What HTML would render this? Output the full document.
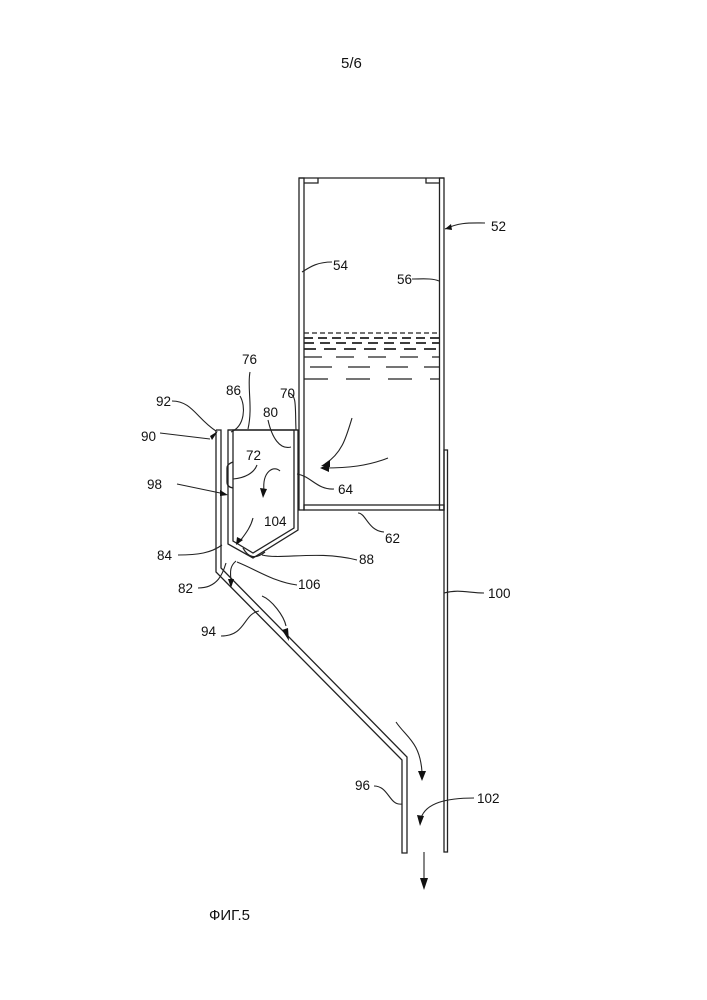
<!DOCTYPE html>
<html><head><meta charset="utf-8"><style>
html,body{margin:0;padding:0;background:#fff;}
svg{display:block;}
text{font-family:"Liberation Sans",sans-serif;font-size:13.5px;fill:#111;}
</style></head><body>
<svg width="707" height="1000" viewBox="0 0 707 1000" xmlns="http://www.w3.org/2000/svg">
<g fill="none" stroke="#222" stroke-width="1.3">
<!-- tank -->
<rect x="299" y="178" width="5" height="332"/>
<rect x="439.5" y="178" width="4.5" height="332"/>
<line x1="299" y1="178" x2="444" y2="178"/>
<polyline points="304,183 318,183 318,178"/>
<polyline points="439.5,183 426,183 426,178"/>
<rect x="304" y="505" width="140" height="5"/>
<!-- wall 100 -->
<rect x="444" y="450" width="3.5" height="402"/>
<!-- liquid -->
<line x1="304" y1="333" x2="439" y2="333" stroke-dasharray="5,3"/>
<line x1="304" y1="338" x2="439" y2="338" stroke-dasharray="9,5" stroke-width="1.7"/>
<line x1="304" y1="343" x2="439" y2="343" stroke-dasharray="10,6" stroke-width="1.7"/>
<line x1="304" y1="349" x2="439" y2="349" stroke-dasharray="12,8" stroke-width="1.7"/>
<line x1="304" y1="357" x2="439" y2="357" stroke-dasharray="18,14"/>
<line x1="310" y1="367" x2="439" y2="367" stroke-dasharray="22,16"/>
<line x1="304" y1="379" x2="439" y2="379" stroke-dasharray="24,18"/>
<!-- hopper -->
<polygon points="228,430 298,430 298,530 253,558 228,544"/>
<polygon points="233,430 294,430 294,528 253,553 233,541" />
<line x1="228" y1="430" x2="298" y2="430"/>
<path d="M243,548 q8,15 22,4" />
<!-- plate 90 / 94 / 96 -->
<polyline points="216,430 216,572 402,760 402,853 407,853 407,757 221,568 221,430 216,430"/>
<!-- 98 bump -->
<path d="M233,462 q-6,2 -6,6 v14 q0,5 6,6"/>
</g>
<g fill="none" stroke="#222" stroke-width="1.1">
<!-- leaders -->
<path d="M172,401 c20,0 25,18 44,30"/>
<path d="M160,433 l50,6"/>
<path d="M177,484 l48,10"/>
<path d="M250,372 c-3,15 3,35 -2,57"/>
<path d="M240,396 c6,10 5,30 -9,36"/>
<path d="M289,393 c8,2 6,14 7,37"/>
<path d="M268,420 c4,18 12,30 23,27"/>
<path d="M257,465 c-3,8 -12,13 -24,14"/>
<path d="M297,474 c14,2 20,16 37,15"/>
<path d="M358,513 c8,0 10,18 26,19"/>
<path d="M178,555 c20,0 33,-2 44,-10"/>
<path d="M198,588 c20,0 25,-15 28,-25"/>
<path d="M262,555 c20,5 55,-5 95,5"/>
<path d="M237,562 c20,8 37,20 60,23"/>
<path d="M221,636 c25,0 22,-22 38,-25"/>
<path d="M374,786 c15,0 15,20 28,18"/>
<path d="M444,593 c15,-4 25,0 40,0"/>
<path d="M445,229 c15,-7 25,-6 40,-6"/>
<path d="M302,272 c8,-5 15,-10 30,-10"/>
<path d="M412,279 c10,0 20,-1 27,2"/>
<!-- flow arrows -->
<path d="M352,418 c-6,20 -10,35 -27,46"/>
<path d="M388,458 c-20,8 -40,10 -64,10"/>
<path d="M280,471 c-6,-6 -18,0 -16,20"/>
<path d="M253,518 c-2,8 -6,14 -13,23"/>
<path d="M236,561 c-6,5 -6,10 -5,20"/>
<path d="M262,596 c10,4 22,20 24,30"/>
<path d="M396,722 c10,15 24,20 26,50"/>
<path d="M474,798 c-28,0 -48,5 -53,20"/>
<line x1="424" y1="852" x2="424" y2="880"/>
</g>
<g fill="#111">
<polygon points="445,229 451,224 452,230"/>
<polygon points="218,431 210,436 212,440"/>
<polygon points="228,495 220,490 220,496"/>
<polygon points="321,466 330,460 330,467"/>
<polygon points="320,468 329,464 329,472"/>
<polygon points="263,498 260,488 267,489"/>
<polygon points="236,545 237,537 243,540"/>
<polygon points="231,588 228,579 234,579"/>
<polygon points="289,641 282,630 288,628"/>
<polygon points="422,781 418,771 426,771"/>
<polygon points="420,826 417,815 424,816"/>
<polygon points="424,890 420,878 428,878"/>
</g>
<text x="341" y="68" style="font-size:15px">5/6</text>
<text x="491" y="231">52</text>
<text x="333" y="270">54</text>
<text x="397" y="284">56</text>
<text x="242" y="364">76</text>
<text x="156" y="406">92</text>
<text x="226" y="395">86</text>
<text x="280" y="398">70</text>
<text x="141" y="441">90</text>
<text x="263" y="417">80</text>
<text x="246" y="460">72</text>
<text x="147" y="489">98</text>
<text x="338" y="494">64</text>
<text x="264" y="526">104</text>
<text x="385" y="543">62</text>
<text x="157" y="560">84</text>
<text x="359" y="564">88</text>
<text x="178" y="593">82</text>
<text x="298" y="589">106</text>
<text x="488" y="598">100</text>
<text x="201" y="636">94</text>
<text x="355" y="790">96</text>
<text x="477" y="803">102</text>
<text x="209" y="920" style="font-size:15px">ФИГ.5</text>
</svg>
</body></html>
